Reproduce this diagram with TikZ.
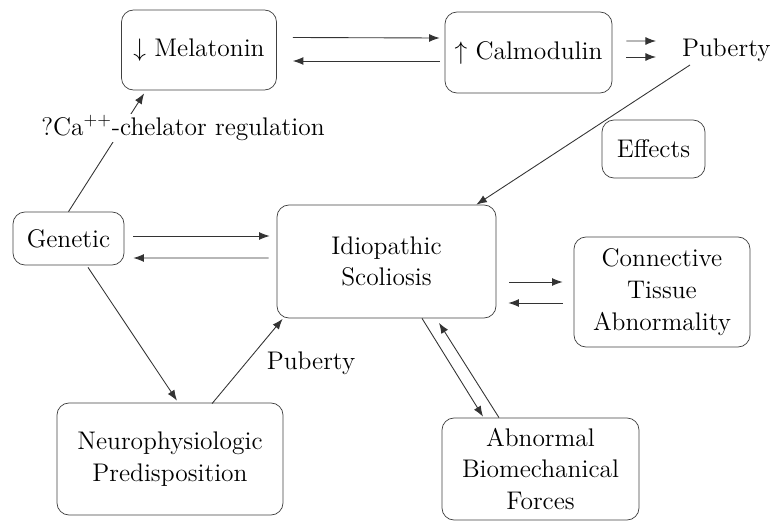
\documentclass[tikz,border=0pt]{standalone}
\usepackage{tikz}
\usepackage{amsmath}
\usetikzlibrary{arrows.meta}
\tikzstyle{block} = [draw=black!75, rounded corners=.24cm, align=center, inner sep=2pt]
\tikzstyle{link} = [draw=black!80, line width=.5pt, -{Latex[length=6pt,width=4.5pt]}]
\tikzstyle{word} = [inner sep=1pt]
\newcommand{\bigtext}{\fontsize{14.5}{18}\selectfont}

\begin{document}
\begin{tikzpicture}[every node/.style={font=\bigtext}]%
	\useasboundingbox (0,0) rectangle (15.4,-10.42);%
	% boxes
	\node [block, minimum width=3.1cm, minimum height=1.6cm] (mel) at (3.98,-1.00) {$\downarrow$ Melatonin};%
	\node [block, minimum width=3.34cm, minimum height=1.62cm] (cal) at (10.57,-1.05) {$\uparrow$ Calmodulin};%
	\node [word, anchor=west] (pub) at (13.6,-1.0) {Puberty};%
	\node [block, minimum width=2.06cm, minimum height=1.16cm] (eff) at (13.07,-2.98) {Effects};%
	\node [block, minimum width=2.22cm, minimum height=1.06cm] (gen) at (1.37,-4.77) {Genetic};%
	\node [block, minimum width=4.38cm, minimum height=2.26cm] (idio) at (7.73,-5.23) {Idiopathic\\Scoliosis};%
	\node [block, minimum width=3.52cm, minimum height=2.2cm] (con) at (13.24,-5.84) {Connective\\Tissue\\Abnormality};%
	\node [block, minimum width=4.52cm, minimum height=2.24cm] (neu) at (3.40,-9.18) {Neurophysiologic\\Predisposition};%
	\node [block, minimum width=3.94cm, minimum height=2.04cm] (abn) at (10.81,-9.38) {Abnormal\\Biomechanical\\Forces};%
	% connectors
	\draw [link] ([shift={(0.32,0.25)}]mel.east) -- ([shift={(-0.1,0.29)}]cal.west);%
	\draw [link] ([shift={(-0.1,-0.17)}]cal.west) -- ([shift={(0.32,-0.22)}]mel.east);%
	\draw [link] ([shift={(0.28,0.23)}]cal.east) -- ([shift={(-0.48,0.18)}]pub.west);%
	\draw [link] ([shift={(0.28,-0.09)}]cal.east) -- ([shift={(-0.48,-0.14)}]pub.west);%
	\draw [link] ([shift={(0.2,-0.3)}]pub.west) -- ([xshift=-0.4cm]idio.north east);%
	\draw [link] (gen.north) -- ([shift={(0.46,-0.06)}]mel.south west);%
	\node [word, fill=white] (ca) at (3.66,-2.56) {?Ca$^{++}$-chelator regulation};%
	\draw [link] ([shift={(0.18,0.05)}]gen.east) -- ([shift={(-0.14,0.51)}]idio.west);%
	\draw [link] ([shift={(-0.16,0.07)}]idio.west) -- ([shift={(0.18,-0.39)}]gen.east);%
	\draw [link] ([shift={(0.39,-0.04)}]gen.south) -- ([shift={(0.14,0.04)}]neu.north);%
	\draw [link] ([shift={(0.84,-0.02)}]neu.north) -- ([shift={(0.12,-0.01)}]idio.south west);%
	\node [word] (pubneu) at (6.22,-7.26) {Puberty};%
	\draw [link] ([shift={(0.26,-0.41)}]idio.east) -- ([shift={(-0.22,0.2)}]con.west);%
	\draw [link] ([shift={(-0.22,-0.22)}]con.west) -- ([shift={(0.24,-0.83)}]idio.east);%
	\draw [link] ([xshift=0.71cm]idio.south) -- ([shift={(-1.15,0.02)}]abn.north);%
	\draw [link] ([xshift=-0.83cm]abn.north) -- ([shift={(1.05,-0.09)}]idio.south);%
\end{tikzpicture}
\end{document}
